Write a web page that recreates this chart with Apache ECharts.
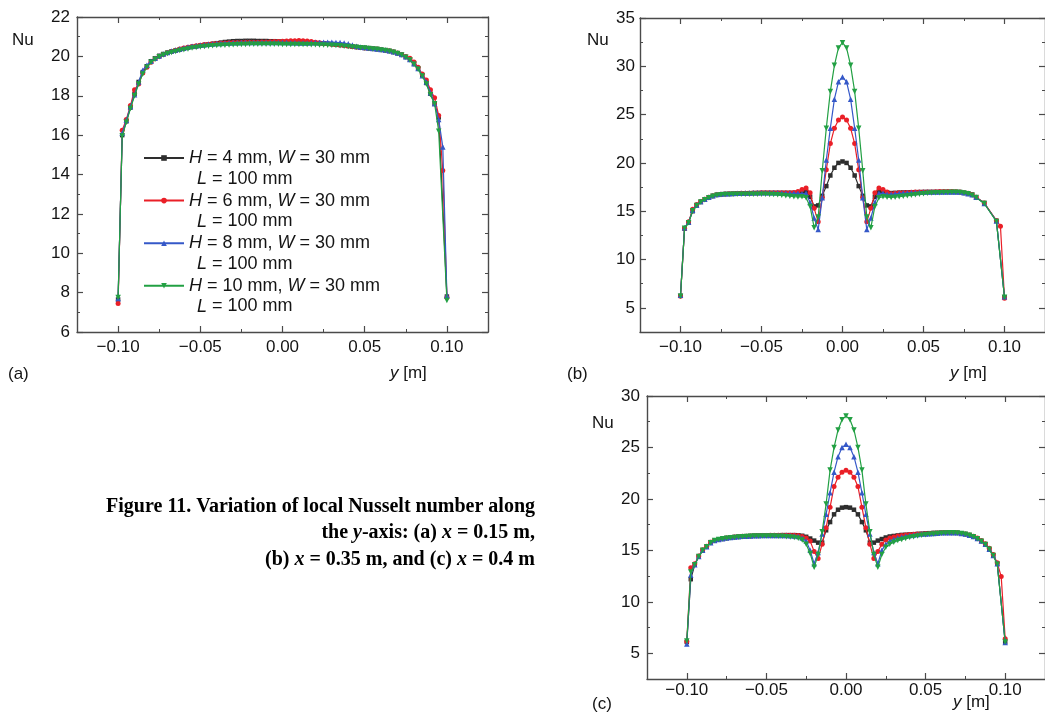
<!DOCTYPE html>
<html>
<head>
<meta charset="utf-8">
<script src="https://cdn.jsdelivr.net/npm/echarts@6/dist/echarts.min.js"></script>
<style>
  html, body { margin: 0; padding: 0; background: #ffffff; }
  #chart { width: 1045px; height: 715px; }
</style>
</head>
<body>
<div id="chart"></div>
<script>
// ---------- DATA ----------
// y-position [m] of every sample (shared by all series)
const Y_POS = [-0.1,-0.0975,-0.095,-0.0925,-0.09,-0.0875,-0.085,-0.0825,-0.08,-0.0775,
  -0.075,-0.0725,-0.07,-0.0675,-0.065,-0.0625,-0.06,-0.0575,-0.055,-0.0525,
  -0.05,-0.0475,-0.045,-0.0425,-0.04,-0.0375,-0.035,-0.0325,-0.03,-0.0275,
  -0.025,-0.0225,-0.02,-0.0175,-0.015,-0.0125,-0.01,-0.0075,-0.005,-0.0025,
  0,0.0025,0.005,0.0075,0.01,0.0125,0.015,0.0175,0.02,0.0225,
  0.025,0.0275,0.03,0.0325,0.035,0.0375,0.04,0.0425,0.045,0.0475,
  0.05,0.0525,0.055,0.0575,0.06,0.0625,0.065,0.0675,0.07,0.0725,
  0.075,0.0775,0.08,0.0825,0.085,0.0875,0.09,0.0925,0.095,0.0975,0.1];

const SERIES_H = ['4', '6', '8', '10'];          // H [mm]
const SERIES_W = '30';                            // W [mm]
const SERIES_L = '100';                           // L [mm]

// (a) x = 0.15 m
const A_H4 = [7.65,16.0,16.7,17.4,18.1,18.7,19.2,19.5,19.75,19.9,
  20.03,20.12,20.19,20.25,20.3,20.35,20.4,20.44,20.48,20.51,
  20.55,20.58,20.61,20.64,20.67,20.7,20.73,20.75,20.77,20.78,
  20.78,20.79,20.79,20.79,20.78,20.78,20.78,20.77,20.77,20.76,
  20.75,20.74,20.73,20.73,20.72,20.71,20.7,20.69,20.68,20.67,
  20.66,20.64,20.62,20.6,20.58,20.56,20.53,20.5,20.47,20.45,
  20.43,20.41,20.39,20.37,20.34,20.31,20.27,20.22,20.16,20.08,
  19.97,19.83,19.62,19.38,19.05,18.65,18.1,17.6,16.9,null,
  7.8];
const A_H6 = [7.45,16.25,16.8,17.5,18.3,18.6,19.15,19.45,19.7,19.88,
  20.0,20.1,20.18,20.25,20.31,20.37,20.42,20.46,20.5,20.54,
  20.57,20.6,20.62,20.64,20.66,20.67,20.68,20.69,20.7,20.71,
  20.71,20.72,20.72,20.72,20.72,20.73,20.73,20.74,20.75,20.76,
  20.77,20.78,20.79,20.8,20.81,20.8,20.78,20.75,20.72,20.69,
  20.66,20.64,20.62,20.6,20.58,20.56,20.53,20.5,20.47,20.45,
  20.43,20.41,20.39,20.37,20.34,20.31,20.28,20.23,20.17,20.1,
  20.0,19.9,19.72,19.45,19.1,18.8,18.3,17.9,17.0,14.2,
  7.75];
const A_H8 = [7.7,16.1,16.75,17.45,18.05,18.7,19.3,19.55,19.75,19.9,
  20.02,20.12,20.2,20.27,20.33,20.38,20.43,20.47,20.51,20.54,
  20.57,20.59,20.61,20.63,20.65,20.66,20.67,20.68,20.69,20.69,
  20.7,20.7,20.7,20.7,20.7,20.7,20.7,20.7,20.7,20.7,
  20.7,20.7,20.69,20.69,20.68,20.68,20.68,20.69,20.7,20.71,
  20.72,20.72,20.72,20.71,20.7,20.68,20.64,20.58,20.52,20.48,
  20.45,20.42,20.4,20.38,20.35,20.32,20.28,20.23,20.17,20.09,
  19.98,19.84,19.63,19.38,19.02,18.7,18.15,17.6,16.8,15.4,
  7.85];
const A_H10 = [7.75,15.95,16.65,17.35,18.0,18.6,19.1,19.45,19.7,19.85,
  19.98,20.07,20.14,20.2,20.25,20.3,20.34,20.38,20.42,20.45,
  20.48,20.5,20.52,20.54,20.55,20.56,20.57,20.58,20.59,20.6,
  20.6,20.6,20.61,20.61,20.61,20.61,20.61,20.61,20.61,20.61,
  20.6,20.6,20.6,20.6,20.6,20.6,20.6,20.59,20.59,20.58,
  20.58,20.57,20.56,20.55,20.54,20.52,20.5,20.48,20.46,20.44,
  20.42,20.4,20.38,20.36,20.33,20.3,20.26,20.21,20.15,20.07,
  19.96,19.82,19.6,19.35,19.0,18.6,18.05,17.6,16.2,null,
  7.6];

// (b) x = 0.35 m
const B_H4 = [6.25,13.2,13.86,15.0,15.6,15.95,16.2,16.45,16.58,16.7,
  16.75,16.78,16.8,16.82,16.84,16.85,16.86,16.87,16.88,16.89,
  16.9,16.9,16.9,16.9,16.9,16.9,16.9,16.9,16.9,16.95,
  17.0,17.05,16.5,15.5,15.6,16.6,17.6,18.7,19.5,20.0,
  20.15,20.0,19.5,18.7,17.6,16.6,15.6,15.5,16.5,17.05,
  17.0,16.95,16.88,16.9,16.92,16.94,16.95,16.96,16.97,16.98,
  16.99,17.0,17.0,17.0,17.0,17.0,17.0,17.0,17.0,16.98,
  16.9,16.85,16.72,16.45,null,15.85,null,null,14.0,null,
  6.1];
const B_H6 = [6.2,13.25,13.9,15.2,15.7,16.0,16.25,16.45,16.6,16.7,
  16.75,16.78,16.8,16.82,16.84,16.85,16.86,16.87,16.88,16.89,
  16.9,16.9,16.9,16.9,16.9,16.9,16.9,16.9,16.95,17.05,
  17.25,17.4,16.9,15.3,13.9,16.4,19.3,22.0,23.6,24.45,
  24.75,24.45,23.6,22.0,19.3,16.4,13.9,15.3,16.9,17.4,
  17.25,17.0,16.8,16.85,16.9,16.92,16.94,16.96,16.98,17.0,
  17.0,17.0,17.0,17.02,17.03,17.03,17.03,17.03,17.02,17.0,
  16.92,16.85,16.72,16.45,null,15.85,null,null,14.05,13.45,
  6.0];
const B_H8 = [6.3,13.3,13.85,15.1,15.65,16.0,16.25,16.45,16.6,16.72,
  16.78,16.8,16.82,16.84,16.86,16.87,16.88,16.89,16.9,16.9,
  16.9,16.9,16.9,16.9,16.9,16.88,16.86,16.85,16.85,16.85,
  16.8,16.85,15.9,14.3,13.1,16.4,20.3,23.6,26.6,28.4,
  28.9,28.4,26.6,23.6,20.3,16.4,13.1,14.3,15.9,16.85,
  16.85,16.75,16.75,16.8,16.85,16.88,16.9,16.93,16.95,16.97,
  16.98,17.0,17.0,17.0,17.0,17.0,17.0,17.0,17.0,16.98,
  16.9,16.82,16.7,16.45,null,15.8,null,null,14.0,null,
  6.15];
const B_H10 = [6.2,13.25,13.8,15.05,15.6,15.95,16.2,16.4,16.55,16.65,
  16.7,16.72,16.74,16.75,16.76,16.76,16.77,16.77,16.77,16.77,
  16.76,16.75,16.74,16.72,16.7,16.65,16.6,16.55,16.5,16.48,
  16.5,16.4,15.5,13.3,14.4,19.2,23.6,27.4,30.1,31.9,
  32.45,31.9,30.1,27.4,23.6,19.2,14.4,13.3,15.5,16.4,
  16.5,16.45,16.42,16.45,16.5,16.55,16.6,16.65,16.7,16.75,
  16.8,16.85,16.88,16.9,16.92,16.94,16.95,16.96,16.96,16.95,
  16.88,16.8,16.66,16.42,null,15.8,null,null,13.95,null,
  6.1];

// (c) x = 0.4 m
const C_H4 = [6.1,12.2,13.6,14.4,15.0,15.35,15.8,15.95,16.05,16.12,
  16.2,16.25,16.3,16.33,16.36,16.38,16.4,16.42,16.43,16.44,
  16.45,16.46,16.47,16.47,16.48,16.48,16.48,16.48,16.47,16.42,
  16.32,16.15,15.95,15.75,15.75,16.95,17.75,18.5,18.95,19.15,
  19.2,19.15,18.95,18.5,17.75,16.95,15.75,15.75,15.95,16.1,
  16.25,16.35,16.4,16.45,16.5,16.52,16.55,16.57,16.6,16.62,
  16.65,16.67,16.7,16.7,16.72,16.73,16.73,16.73,16.7,16.65,
  16.58,16.48,16.35,16.15,15.9,15.6,15.1,14.5,13.7,null,
  6.1];
const C_H6 = [6.15,13.3,13.7,14.45,15.05,15.4,15.8,15.95,16.05,16.12,
  16.2,16.25,16.3,16.33,16.36,16.38,16.4,16.42,16.43,16.44,
  16.45,16.46,16.47,16.47,16.48,16.48,16.48,16.47,16.45,16.35,
  16.2,15.9,14.9,14.2,15.6,17.2,19.2,21.2,22.1,22.6,
  22.78,22.6,22.1,21.2,19.2,17.2,15.6,14.2,14.9,15.6,
  16.0,16.2,16.3,16.4,16.45,16.5,16.53,16.56,16.58,16.6,
  16.62,16.64,16.66,16.68,16.7,16.72,16.72,16.72,16.7,16.65,
  16.58,16.5,16.38,16.2,15.95,15.65,15.2,14.6,13.8,12.45,
  6.4];
const C_H8 = [5.9,12.6,13.6,14.4,15.0,15.35,15.75,15.95,16.05,16.12,
  16.2,16.25,16.3,16.33,16.36,16.38,16.4,16.42,16.43,16.44,
  16.45,16.45,16.45,16.45,16.45,16.44,16.42,16.4,16.35,16.2,
  15.9,15.0,13.7,14.8,16.6,18.5,20.6,22.6,24.1,25.0,
  25.3,25.0,24.1,22.6,20.6,18.5,16.6,14.8,13.7,15.0,
  15.6,15.9,16.05,16.2,16.3,16.38,16.45,16.5,16.55,16.58,
  16.6,16.62,16.65,16.67,16.7,16.7,16.72,16.72,16.7,16.65,
  16.58,16.48,16.35,16.15,15.9,15.6,15.1,14.5,13.7,null,
  6.05];
const C_H10 = [6.2,12.9,13.6,14.4,15.0,15.35,15.75,15.95,16.05,16.12,
  16.18,16.22,16.26,16.3,16.33,16.35,16.37,16.39,16.4,16.4,
  16.4,16.4,16.39,16.38,16.36,16.33,16.3,16.25,16.18,16.0,
  15.6,14.7,13.35,14.6,16.8,19.5,22.8,25.0,26.7,27.7,
  28.06,27.7,26.7,25.0,22.8,19.5,16.8,14.6,13.35,14.6,
  15.3,15.6,15.8,15.95,16.05,16.15,16.25,16.33,16.4,16.47,
  16.52,16.57,16.6,16.63,16.66,16.68,16.7,16.7,16.68,16.64,
  16.56,16.46,16.33,16.12,15.88,15.58,15.1,14.5,13.65,null,
  6.1];

// tick labels
const X_TICKS = [-0.1, -0.05, 0, 0.05, 0.1];
const X_MINOR = [-0.125, -0.075, -0.025, 0.025, 0.075, 0.125];
const Y_TICKS_A = [6, 8, 10, 12, 14, 16, 18, 20, 22];
const Y_MINOR_A = [7, 9, 11, 13, 15, 17, 19, 21];
const Y_TICKS_B = [5, 10, 15, 20, 25, 30, 35];
const Y_MINOR_B = [2.5, 7.5, 12.5, 17.5, 22.5, 27.5, 32.5];
const Y_TICKS_C = [5, 10, 15, 20, 25, 30];
const Y_MINOR_C = [2.5, 7.5, 12.5, 17.5, 22.5, 27.5];

// ---------- STYLE ----------
const FONT = '"Liberation Sans", Arial, Helvetica, sans-serif';
const SERIF = '"Liberation Serif", "Times New Roman", serif';
const AX = '#4a4a4a';
const TXT = '#141414';
const COLORS = ['#2e2e2e', '#ea1f27', '#3558c8', '#22a043'];
const SYMBOLS = ['rect', 'circle', 'triangle', 'triangle'];
const SYM_SIZE = [4.5, 5, 5.5, 5.5];
const SYM_ROT = [0, 0, 0, 180];

const PANELS = [
  { grid: { left: 77, top: 17, width: 411, height: 315 }, yMin: 6, yMax: 22,
    yTicks: Y_TICKS_A, yMinor: Y_MINOR_A, data: [A_H4, A_H6, A_H8, A_H10], xMargin: 7, yMargin: 7 },
  { grid: { left: 640, top: 18, width: 410, height: 314 }, yMin: 2.5, yMax: 35,
    yTicks: Y_TICKS_B, yMinor: Y_MINOR_B, data: [B_H4, B_H6, B_H8, B_H10], xMargin: 7, yMargin: 5 },
  { grid: { left: 647, top: 396, width: 406, height: 283 }, yMin: 2.5, yMax: 30,
    yTicks: Y_TICKS_C, yMinor: Y_MINOR_C, data: [C_H4, C_H6, C_H8, C_H10], xMargin: 3, yMargin: 7 }
];

const fmtX = v => (v < 0 ? '\u2212' : '') + Math.abs(v).toFixed(2);
const labelStyle = { color: TXT, fontSize: 17, fontFamily: FONT };

function makeAxes(kind, gi, min, max, major, minor, margin, formatter) {
  const posA = kind === 'x' ? 'bottom' : 'left';
  const posB = kind === 'x' ? 'top' : 'right';
  const base = { type: 'value', gridIndex: gi, min: min, max: max, scale: true,
    splitLine: { show: false }, splitArea: { show: false } };
  const out = [];
  [posA, posB].forEach((pos, k) => {
    out.push(Object.assign({}, base, {
      position: pos,
      axisLine: { show: true, onZero: false, lineStyle: { color: AX, width: 1.4 } },
      axisTick: { show: true, inside: true, length: 6, customValues: major, lineStyle: { color: AX, width: 1.2 } },
      axisLabel: k === 0
        ? Object.assign({ show: true, customValues: major, margin: margin, formatter: formatter }, labelStyle)
        : { show: false }
    }));
    out.push(Object.assign({}, base, {
      position: pos,
      axisLine: { show: false, onZero: false },
      axisTick: { show: true, inside: true, length: 3, customValues: minor, lineStyle: { color: AX, width: 1 } },
      axisLabel: { show: false }
    }));
  });
  return out;
}

const xAxes = [], yAxes = [], grids = [], series = [];
PANELS.forEach((p, gi) => {
  grids.push(Object.assign({ containLabel: false }, p.grid));
  xAxes.push(...makeAxes('x', gi, -0.125, 0.125, X_TICKS, X_MINOR, p.xMargin, fmtX));
  yAxes.push(...makeAxes('y', gi, p.yMin, p.yMax, p.yTicks, p.yMinor, p.yMargin, v => String(v)));
  p.data.forEach((vals, si) => {
    const pts = [];
    Y_POS.forEach((x, i) => { if (vals[i] !== null) pts.push([x, vals[i]]); });
    series.push({
      type: 'line', name: 'H' + SERIES_H[si],
      xAxisIndex: gi * 4, yAxisIndex: gi * 4,
      data: pts, symbol: SYMBOLS[si], symbolSize: SYM_SIZE[si], symbolRotate: SYM_ROT[si],
      showSymbol: true, showAllSymbol: true,
      lineStyle: { width: 1.2, color: COLORS[si] },
      itemStyle: { color: COLORS[si] },
      emphasis: { disabled: true },
      animation: false, z: 2 + si
    });
  });
});

function txt(x, y, text, opts) {
  return { type: 'text', x: x, y: y, z: 100, silent: true,
    style: Object.assign({ text: text, fill: TXT, fontSize: 17, fontFamily: FONT,
      align: 'left', verticalAlign: 'middle' }, opts || {}) };
}
const italicRich = { i: { fontStyle: 'italic', fontSize: 17, fontFamily: FONT, fill: TXT } };
const italicRich18 = { i: { fontStyle: 'italic', fontSize: 18, fontFamily: FONT, fill: TXT } };
const capRich = { i: { fontStyle: 'italic', fontWeight: 'bold', fontSize: 20, fontFamily: SERIF, fill: '#000' } };

const graphics = [
  txt(12, 40, 'Nu'), txt(587, 40, 'Nu'), txt(592, 423, 'Nu'),
  txt(8, 374, '(a)'), txt(567, 374, '(b)'), txt(592, 704, '(c)'),
  txt(390, 373, '{i|y} [m]', { rich: italicRich }),
  txt(950, 373, '{i|y} [m]', { rich: italicRich }),
  txt(953, 702, '{i|y} [m]', { rich: italicRich })
];
// second lines of legend entries
[179, 221.5, 264, 306.5].forEach(yy => {
  graphics.push(txt(197, yy, '{i|L} = ' + SERIES_L + ' mm', { fontSize: 18, rich: italicRich18 }));
});
// caption
const capStyle = { fontSize: 20, fontWeight: 'bold', fontFamily: SERIF, fill: '#000', align: 'right', rich: capRich };
graphics.push(txt(535, 507, 'Figure 11. Variation of local Nusselt number along', capStyle));
graphics.push(txt(535, 533, 'the {i|y}-axis: (a) {i|x} = 0.15 m,', capStyle));
graphics.push(txt(535, 560, '(b) {i|x} = 0.35 m, and (c) {i|x} = 0.4 m', capStyle));

const chart = echarts.init(document.getElementById('chart'), null, { renderer: 'canvas' });
chart.setOption({
  backgroundColor: '#ffffff',
  animation: false,
  grid: grids,
  xAxis: xAxes,
  yAxis: yAxes,
  legend: {
    show: true, orient: 'vertical', left: 138, top: 143,
    itemWidth: 40, itemHeight: 7, itemGap: 22.6,
    data: SERIES_H.map(h => 'H' + h),
    selectedMode: false,
    formatter: name => '{i|H} = ' + name.slice(1) + ' mm, {i|W} = ' + SERIES_W + ' mm',
    textStyle: { color: TXT, fontSize: 18, fontFamily: FONT, lineHeight: 20, rich: italicRich18 }
  },
  graphic: graphics,
  series: series
});
</script>
</body>
</html>
